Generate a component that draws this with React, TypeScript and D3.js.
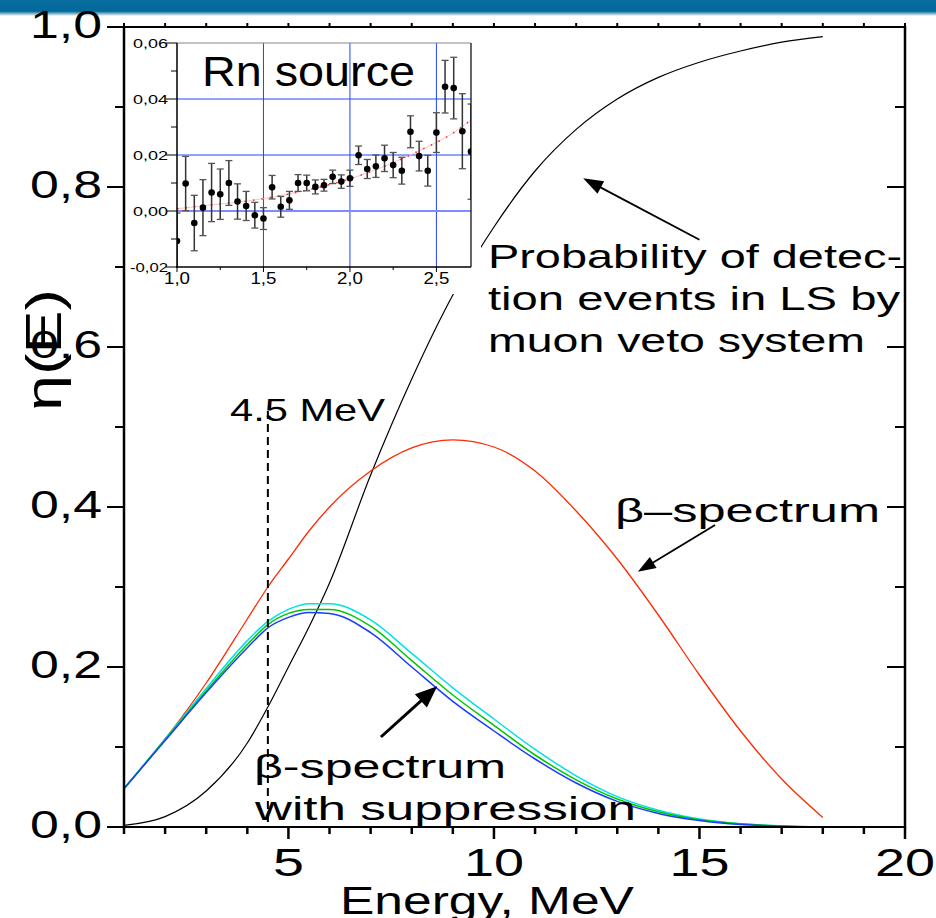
import React from "react";
import * as d3 from "d3";

// ---- main chart data ----
const energy = [1, 2, 3, 4, 4.5, 5, 5.5, 6, 7, 8, 9, 10, 11, 12, 13, 14, 15, 16, 17, 18];
const probDetect = [0.002, 0.013, 0.045, 0.105, 0.15, 0.2, 0.25, 0.305, 0.44, 0.56, 0.665, 0.75, 0.82, 0.872, 0.91, 0.937, 0.956, 0.97, 0.981, 0.988];
const betaSpectrum = [0.048, 0.11, 0.18, 0.26, 0.3, 0.335, 0.37, 0.4, 0.445, 0.474, 0.484, 0.475, 0.445, 0.395, 0.335, 0.265, 0.19, 0.12, 0.06, 0.012];
const suppBlue = [0.048, 0.108, 0.168, 0.224, 0.249, 0.262, 0.268, 0.267, 0.243, 0.2, 0.157, 0.12, 0.085, 0.055, 0.032, 0.017, 0.008, 0.003, 0.001, 0];
const suppGreen = [0.048, 0.109, 0.17, 0.228, 0.253, 0.267, 0.272, 0.272, 0.251, 0.208, 0.165, 0.127, 0.09, 0.059, 0.035, 0.019, 0.009, 0.004, 0.001, 0];
const suppCyan = [0.048, 0.11, 0.173, 0.233, 0.257, 0.272, 0.279, 0.279, 0.259, 0.217, 0.174, 0.135, 0.097, 0.064, 0.038, 0.021, 0.01, 0.004, 0.0015, 0];
const xMajorTicks = [5, 10, 15, 20];
const yTickLabels = ["0,0", "0,2", "0,4", "0,6", "0,8", "1,0"];
const markerEnergy = 4.5;

// ---- inset data (Rn source) ----
const rnX = [1.0, 1.05, 1.1, 1.15, 1.2, 1.25, 1.3, 1.35, 1.4, 1.45, 1.5, 1.55, 1.6, 1.65, 1.7, 1.75, 1.8, 1.85, 1.9, 1.95, 2.0, 2.05, 2.1, 2.15, 2.2, 2.25, 2.3, 2.35, 2.4, 2.45, 2.5, 2.55, 2.6, 2.65, 2.7];
const rnY = [-0.0107, 0.0098, -0.0043, 0.0012, 0.0066, 0.006, 0.01, 0.0034, 0.0018, -0.0015, -0.0027, 0.0085, 0.0015, 0.0038, 0.01, 0.01, 0.0086, 0.0092, 0.0122, 0.0105, 0.0117, 0.0199, 0.015, 0.016, 0.0188, 0.0164, 0.0144, 0.0283, 0.0196, 0.0144, 0.028, 0.0444, 0.0439, 0.0285, 0.0212];
const rnErr = [0.01, 0.0097, 0.0099, 0.01, 0.0104, 0.009, 0.008, 0.0063, 0.0052, 0.0046, 0.0039, 0.0042, 0.0037, 0.0032, 0.003, 0.0028, 0.0025, 0.0021, 0.0024, 0.0024, 0.0029, 0.0033, 0.0034, 0.004, 0.0047, 0.0045, 0.0048, 0.0057, 0.0053, 0.0055, 0.0071, 0.0094, 0.011, 0.0134, 0.017];
const rnFitX = [1.0, 1.2, 1.4, 1.6, 1.8, 2.0, 2.2, 2.4, 2.6, 2.7];
const rnFitY = [0.0008, 0.0022, 0.0035, 0.0055, 0.0082, 0.0115, 0.016, 0.0215, 0.028, 0.0325];
const insetXTicks = [1.0, 1.5, 2.0, 2.5];
const insetXLabels = ["1,0", "1,5", "2,0", "2,5"];
const insetYTicks = [-0.02, 0, 0.02, 0.04, 0.06];
const insetYLabels = ["-0,02", "0,00", "0,02", "0,04", "0,06"];

const FONT = "'Liberation Sans', Arial, Helvetica, sans-serif";

function Arrow({ x1, y1, x2, y2, w, hl, hw }: { x1: number; y1: number; x2: number; y2: number; w: number; hl: number; hw: number }) {
  const dx = x2 - x1, dy = y2 - y1;
  const L = Math.hypot(dx, dy);
  const ux = dx / L, uy = dy / L;
  const bx = x2 - ux * hl, by = y2 - uy * hl;
  const px = -uy, py = ux;
  const pts = `${x2},${y2} ${bx + px * hw},${by + py * hw} ${bx - px * hw},${by - py * hw}`;
  return (
    <g>
      <line x1={x1} y1={y1} x2={bx + ux * 2} y2={by + uy * 2} stroke="#000" strokeWidth={w} />
      <polygon points={pts} fill="#000" />
    </g>
  );
}

function T({ x, y, size, len, anchor = "start", children }: any) {
  return (
    <text x={x} y={y} fontSize={size} fontFamily={FONT} textAnchor={anchor} textLength={len} lengthAdjust="spacingAndGlyphs" fill="#000">
      {children}
    </text>
  );
}

export default function App() {
  const W = 936, H = 918;
  const x = d3.scaleLinear().domain([1, 20]).range([124, 905]);
  const y = d3.scaleLinear().domain([0, 1]).range([827, 27]);

  const line = (vals: number[]) =>
    d3.line<number>().x((_, i) => x(energy[i])).y((v) => y(v)).curve(d3.curveMonotoneX)(vals) || "";

  const ix = d3.scaleLinear().domain([1, 2.7]).range([177, 471]);
  const iy = d3.scaleLinear().domain([-0.02, 0.06]).range([267, 43]);
  const fitLine = d3.line<number>().x((_, i) => ix(rnFitX[i])).y((v) => iy(v)).curve(d3.curveMonotoneX)(rnFitY) || "";

  const xMinor = d3.range(1, 21);
  const yAll = d3.range(0, 11).map((k) => k / 10);

  return (
    <svg width={W} height={H} style={{ position: "absolute", left: 0, top: 0, background: "#fff" }}>
      <defs>
        <linearGradient id="hdr" x1="0" y1="0" x2="0" y2="1">
          <stop offset="0" stopColor="#0a6fa0" />
          <stop offset="0.7" stopColor="#006899" />
          <stop offset="1" stopColor="#ffffff" />
        </linearGradient>
        <clipPath id="insetClip">
          <rect x={177} y={43} width={294} height={224} />
        </clipPath>
      </defs>
      <rect x={0} y={0} width={W} height={H} fill="#fff" />
      <rect x={0} y={0} width={W} height={16} fill="url(#hdr)" />

      {/* main curves */}
      <path d={line(probDetect)} fill="none" stroke="#000" strokeWidth={1.2} />
      <path d={line(betaSpectrum)} fill="none" stroke="#ff2a00" strokeWidth={1.3} />
      <path d={line(suppCyan)} fill="none" stroke="#00e0e8" strokeWidth={1.5} />
      <path d={line(suppGreen)} fill="none" stroke="#00c800" strokeWidth={1.5} />
      <path d={line(suppBlue)} fill="none" stroke="#1a3cff" strokeWidth={1.5} />

      {/* 4.5 MeV marker */}
      <line x1={x(markerEnergy)} x2={x(markerEnergy)} y1={y(0.52)} y2={y(0)} stroke="#000" strokeWidth={2} strokeDasharray="8 5" />

      {/* frame */}
      <line x1={124} x2={905} y1={27} y2={27} stroke="#000" strokeWidth={2} />
      <line x1={124} x2={905} y1={827} y2={827} stroke="#000" strokeWidth={2} />
      <line x1={124} x2={124} y1={26} y2={828} stroke="#000" strokeWidth={2.5} />
      <line x1={905} x2={905} y1={26} y2={828} stroke="#000" strokeWidth={2.5} />

      {/* bottom ticks */}
      {xMinor.map((v) => (
        <line key={"bx" + v} x1={x(v)} x2={x(v)} y1={827} y2={xMajorTicks.includes(v) ? 839 : 834} stroke="#000" strokeWidth={2.5} />
      ))}
      {/* top ticks */}
      {xMinor.map((v) => (
        <line key={"tx" + v} x1={x(v)} x2={x(v)} y1={27} y2={23} stroke="#000" strokeWidth={2} />
      ))}
      {/* left & right ticks */}
      {yAll.map((v, k) => (
        <g key={"yt" + k}>
          <line x1={k % 2 === 0 ? 107 : 115} x2={124} y1={y(v)} y2={y(v)} stroke="#000" strokeWidth={2} />
          <line x1={905} x2={k % 2 === 0 ? 887 : 895} y1={y(v)} y2={y(v)} stroke="#000" strokeWidth={2} />
        </g>
      ))}

      {/* tick labels */}
      {xMajorTicks.map((v) => (
        <T key={"xl" + v} x={x(v)} y={876} size={38} len={v < 10 ? 31 : 60} anchor="middle">
          {String(v)}
        </T>
      ))}
      {yTickLabels.map((s, k) => (
        <T key={"yl" + k} x={102} y={y(k * 0.2) + 11} size={38} len={72} anchor="end">
          {s}
        </T>
      ))}
      <T x={487} y={914} size={38} len={294} anchor="middle">Energy, MeV</T>
      <text transform="translate(61,350) rotate(-90)" fontSize={50} fontFamily={FONT} textAnchor="middle" textLength={122} lengthAdjust="spacingAndGlyphs">
        η(E)
      </text>

      {/* annotations */}
      <T x={230} y={421} size={32} len={155}>4.5 MeV</T>
      <T x={488} y={268} size={34} len={414}>Probability of detec-</T>
      <T x={488} y={310} size={34} len={412}>tion events in LS by</T>
      <T x={488} y={352} size={34} len={377}>muon veto system</T>
      <T x={615} y={522} size={34} len={265}>β–spectrum</T>
      <T x={254} y={778} size={34} len={252}>β-spectrum</T>
      <T x={255} y={820} size={34} len={381}>with suppression</T>

      <Arrow x1={x(15.0)} y1={y(0.734)} x2={x(12.17)} y2={y(0.811)} w={1.8} hl={20} hw={7} />
      <Arrow x1={x(15.38)} y1={y(0.3775)} x2={x(13.5)} y2={y(0.319)} w={1.8} hl={18} hw={6.5} />
      <Arrow x1={x(7.25)} y1={y(0.1125)} x2={x(8.62)} y2={y(0.176)} w={3} hl={22} hw={9} />

      {/* inset */}
      <rect x={126} y={29} width={355} height={265} fill="#fff" />
      <g>
        {insetXTicks.slice(1).map((v) => (
          <line key={"ig" + v} x1={ix(v)} x2={ix(v)} y1={43} y2={267} stroke="#2244ff" strokeWidth={1} />
        ))}
        {[0.02, 0.04].map((v) => (
          <line key={"igy" + v} x1={177} x2={471} y1={iy(v)} y2={iy(v)} stroke="#2244ff" strokeWidth={1} />
        ))}
        <line x1={177} x2={471} y1={iy(0)} y2={iy(0)} stroke="#7f8cff" strokeWidth={2} />
        <g clipPath="url(#insetClip)">
          <path d={fitLine} fill="none" stroke="#ffc4c4" strokeWidth={1} />
          <path d={fitLine} fill="none" stroke="#ee3333" strokeWidth={1.6} strokeDasharray="1.5 7" />
          {rnX.map((v, i) => {
            const cx = ix(v);
            const top = iy(rnY[i] + rnErr[i]);
            const bot = iy(rnY[i] - rnErr[i]);
            return (
              <g key={"p" + i}>
                <line x1={cx} x2={cx} y1={top} y2={bot} stroke="#333" strokeWidth={1.5} />
                <line x1={cx - 3.5} x2={cx + 3.5} y1={top} y2={top} stroke="#555" strokeWidth={1.3} />
                <line x1={cx - 3.5} x2={cx + 3.5} y1={bot} y2={bot} stroke="#555" strokeWidth={1.3} />
                <circle cx={cx} cy={iy(rnY[i])} r={3.3} fill="#000" />
              </g>
            );
          })}
        </g>
        <line x1={177} x2={471} y1={43} y2={43} stroke="#888" strokeWidth={1} />
        <line x1={471} x2={471} y1={43} y2={267} stroke="#000" strokeWidth={1.2} />
        <line x1={177} x2={177} y1={43} y2={268} stroke="#000" strokeWidth={1.5} />
        <line x1={176} x2={471} y1={267} y2={267} stroke="#000" strokeWidth={1.5} />
        {d3.range(-0.02, 0.0601, 0.01).map((v, k) => (
          <line key={"iyt" + k} x1={k % 2 === 0 ? 166 : 171} x2={177} y1={iy(v)} y2={iy(v)} stroke="#000" strokeWidth={1} />
        ))}
        {d3.range(1.0, 2.71, 0.25).map((v, k) => (
          <line key={"ixt" + k} x1={ix(v)} x2={ix(v)} y1={267} y2={k % 2 === 0 ? 272 : 270} stroke="#000" strokeWidth={1} />
        ))}
        {insetYTicks.map((v, k) => (
          <T key={"iyl" + k} x={168} y={iy(v) + 4.5} size={12} len={k === 0 ? 38 : 35} anchor="end">
            {insetYLabels[k]}
          </T>
        ))}
        {insetXTicks.map((v, k) => (
          <T key={"ixl" + k} x={ix(v)} y={284} size={17} len={26} anchor="middle">
            {insetXLabels[k]}
          </T>
        ))}
        <T x={202} y={86} size={42} len={213}>Rn source</T>
      </g>
    </svg>
  );
}
